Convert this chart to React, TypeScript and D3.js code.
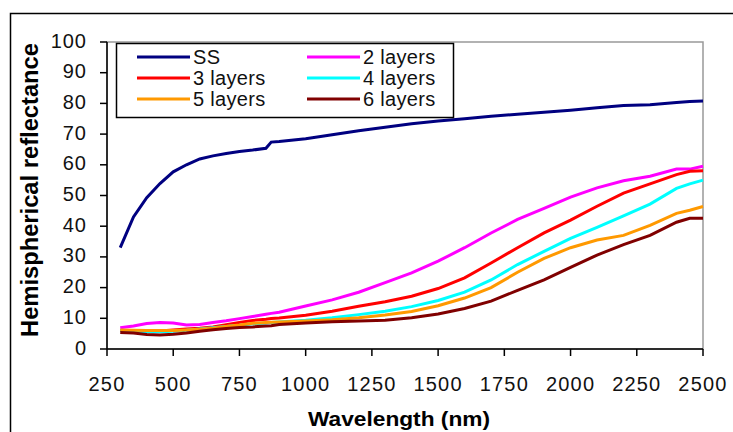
import React from "react";
import * as d3 from "d3";

const wavelengths = [300, 350, 400, 450, 500, 550, 600, 650, 700, 750, 800, 850, 870, 900, 1000, 1100, 1200, 1300, 1400, 1500, 1600, 1700, 1800, 1900, 2000, 2100, 2200, 2300, 2400, 2450, 2500];

const ss = [33, 43, 49.3, 53.9, 57.7, 60.0, 61.9, 62.9, 63.7, 64.3, 64.8, 65.4, 67.4, 67.6, 68.5, 69.8, 71.1, 72.2, 73.4, 74.3, 75.0, 75.8, 76.5, 77.1, 77.8, 78.6, 79.3, 79.6, 80.3, 80.6, 80.8];
const layers2 = [6.9, 7.5, 8.3, 8.6, 8.5, 7.8, 8.0, 8.6, 9.2, 9.9, 10.6, 11.3, 11.6, 12.0, 14.0, 16.0, 18.5, 21.6, 24.8, 28.6, 33.0, 37.8, 42.2, 45.8, 49.5, 52.5, 54.8, 56.3, 58.6, 58.6, 59.5];
const layers3 = [6.0, 5.9, 5.8, 5.9, 6.2, 6.5, 6.8, 7.2, 7.9, 8.6, 9.3, 9.7, 9.9, 10.1, 11.0, 12.3, 13.9, 15.4, 17.2, 19.7, 23.2, 28.0, 33.0, 37.8, 42.0, 46.5, 50.8, 53.8, 56.8, 57.9, 58.1];
const layers4 = [6.0, 5.8, 5.6, 5.6, 5.8, 6.1, 6.5, 6.9, 7.3, 7.7, 8.2, 8.5, 8.6, 8.8, 9.4, 10.2, 11.2, 12.3, 13.8, 15.8, 18.5, 22.5, 27.5, 31.8, 36.0, 39.6, 43.4, 47.2, 52.3, 53.8, 55.0];
const layers5 = [6.2, 6.1, 6.0, 6.0, 6.0, 6.2, 6.4, 6.8, 7.3, 7.8, 8.4, 8.6, 8.7, 8.8, 9.1, 9.5, 10.2, 11.1, 12.2, 14.1, 16.6, 20.0, 25.0, 29.5, 33.0, 35.5, 37.0, 40.3, 44.2, 45.2, 46.4];
const layers6 = [5.4, 5.2, 4.7, 4.6, 4.8, 5.2, 5.8, 6.3, 6.7, 7.0, 7.2, 7.5, 7.6, 8.0, 8.5, 8.9, 9.1, 9.4, 10.2, 11.4, 13.2, 15.6, 19.1, 22.5, 26.6, 30.6, 34.0, 37.0, 41.3, 42.6, 42.6];

const seriesNames = ["SS", "2 layers", "3 layers", "4 layers", "5 layers", "6 layers"];
const seriesValues = [ss, layers2, layers3, layers4, layers5, layers6];
const seriesColors = ["#000080", "#FF00FF", "#FF0000", "#00FFFF", "#FF9900", "#800000"];

const xTicks = [250, 500, 750, 1000, 1250, 1500, 1750, 2000, 2250, 2500];
const yTicks = [0, 10, 20, 30, 40, 50, 60, 70, 80, 90, 100];

const FONT = "'Liberation Sans', Arial, sans-serif";

export default function App() {
  const x = d3.scaleLinear().domain([250, 2500]).range([107, 703]);
  const y = d3.scaleLinear().domain([0, 100]).range([349, 42]);
  const line = d3
    .line<number>()
    .x((_, i) => x(wavelengths[i]))
    .y((v) => y(v));

  const legendRows = [
    [0, 1],
    [2, 3],
    [4, 5],
  ];

  return (
    <svg
      width={733}
      height={432}
      style={{ position: "absolute", left: 0, top: 0, display: "block", background: "#fff" }}
      fontFamily={FONT}
    >
      <rect x={0} y={0} width={733} height={432} fill="#fff" />
      <rect x={10.5} y={13.5} width={800} height={500} fill="none" stroke="#000" strokeWidth={1.5} />

      {/* plot area frame */}
      <rect x={x(250)} y={y(100)} width={x(2500) - x(250)} height={y(0) - y(100)} fill="none" stroke="#999" strokeWidth={1.5} />
      <line x1={x(250)} x2={x(250)} y1={y(100)} y2={y(0)} stroke="#000" strokeWidth={1.5} />
      <line x1={x(250)} x2={x(2500)} y1={y(0)} y2={y(0)} stroke="#000" strokeWidth={1.5} />

      {yTicks.map((t) => (
        <g key={"y" + t}>
          <line x1={x(250) - 7} x2={x(250)} y1={y(t)} y2={y(t)} stroke="#000" strokeWidth={1.5} />
          <text x={87} y={y(t) + 5.5} textAnchor="end" fontSize={20} letterSpacing={1} fill="#111">
            {t}
          </text>
        </g>
      ))}
      {xTicks.map((t) => (
        <g key={"x" + t}>
          <line x1={x(t)} x2={x(t)} y1={y(0)} y2={y(0) + 7} stroke="#000" strokeWidth={1.5} />
          <text x={x(t)} y={391} textAnchor="middle" fontSize={20} letterSpacing={1.2} fill="#111">
            {t}
          </text>
        </g>
      ))}

      {seriesValues.map((vals, i) => (
        <path key={seriesNames[i]} d={line(vals) || ""} fill="none" stroke={seriesColors[i]} strokeWidth={3} strokeLinejoin="miter" />
      ))}

      {/* legend */}
      <rect x={116.5} y={43.5} width={337} height={74} fill="#fff" stroke="#000" strokeWidth={1.5} />
      {legendRows.map((row, r) =>
        row.map((si, c) => {
          const lx = c === 0 ? 137 : 307;
          const ly = 57 + r * 21;
          return (
            <g key={"lg" + si}>
              <line x1={lx} x2={lx + 53} y1={ly} y2={ly} stroke={seriesColors[si]} strokeWidth={3} />
              <text x={lx + 56} y={ly + 7} fontSize={20} letterSpacing={0.3} fill="#111">
                {seriesNames[si]}
              </text>
            </g>
          );
        })
      )}

      {/* axis titles */}
      <text
        transform={`translate(38, 190) rotate(-90)`}
        textAnchor="middle"
        fontSize={23}
        fontWeight="bold"
        textLength={294}
        lengthAdjust="spacingAndGlyphs"
        fill="#000"
      >
        Hemispherical reflectance
      </text>
      <text x={399} y={426} textAnchor="middle" fontSize={21} fontWeight="bold" textLength={182} lengthAdjust="spacingAndGlyphs" fill="#000">
        Wavelength (nm)
      </text>
    </svg>
  );
}
